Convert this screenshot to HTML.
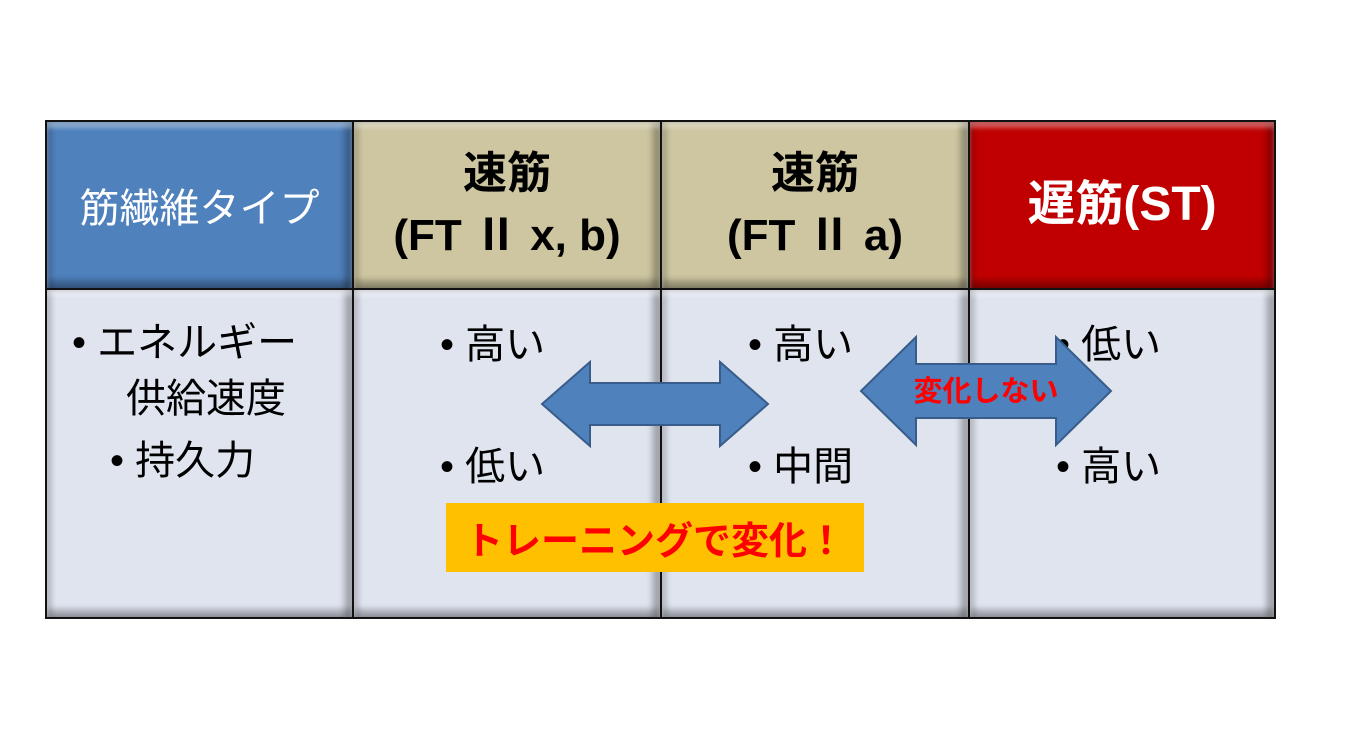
<!DOCTYPE html>
<html><head><meta charset="utf-8"><style>
body{margin:0;width:1350px;height:742px;background:#fff;position:relative;overflow:hidden;font-family:"Liberation Sans","Noto Sans CJK JP",sans-serif}
.c{position:absolute;box-sizing:border-box;border:2px solid #111;display:flex;align-items:center;justify-content:center;text-align:center}
.bev{box-shadow:inset 0 6px 4px rgba(255,255,255,.35),inset 6px 0 4px rgba(0,0,0,.12),inset -8px 0 6px rgba(0,0,0,.25),inset 0 -8px 6px rgba(0,0,0,.25)}
.h{font-weight:bold;font-size:44px;line-height:62px;color:#000}
.b{background:#dfe4ef;align-items:flex-start;justify-content:flex-start;color:#000}
.t{position:absolute;font-size:40px;white-space:nowrap}
</style></head><body>
<div class="c bev" style="left:45px;top:120px;width:309px;height:170px;background:#4f81bd;color:#fff;font-size:40px">筋繊維タイプ</div>
<div class="c bev h" style="left:352px;top:120px;width:310px;height:170px;background:#cdc6a0">速筋<br>(FT Ⅱ x, b)</div>
<div class="c bev h" style="left:660px;top:120px;width:310px;height:170px;background:#cdc6a0">速筋<br>(FT Ⅱ a)</div>
<div class="c bev h" style="left:968px;top:120px;width:308px;height:170px;background:#c00000;color:#fff;font-size:48px">遅筋(ST)</div>
<div class="c bev b" style="left:45px;top:288px;width:309px;height:331px"></div>
<div class="c bev b" style="left:352px;top:288px;width:310px;height:331px"></div>
<div class="c bev b" style="left:660px;top:288px;width:310px;height:331px"></div>
<div class="c bev b" style="left:968px;top:288px;width:308px;height:331px"></div>
<div class="t" style="left:72px;top:310px">• エネルギー</div>
<div class="t" style="left:126px;top:366px">供給速度</div>
<div class="t" style="left:110px;top:428px">• 持久力</div>
<div class="t" style="left:440px;top:312px">• 高い</div>
<div class="t" style="left:440px;top:434px">• 低い</div>
<div class="t" style="left:748px;top:312px">• 高い</div>
<div class="t" style="left:748px;top:434px">• 中間</div>
<div class="t" style="left:1056px;top:312px">• 低い</div>
<div class="t" style="left:1056px;top:434px">• 高い</div>
<svg style="position:absolute;left:0;top:0" width="1350" height="742">
<polygon points="542,404 590,362 590,383 720,383 720,362 768,404 720,446 720,425 590,425 590,446" fill="#4f81bd" stroke="#385d8a" stroke-width="2"/>
<polygon points="861,391 916,337 916,364 1056,364 1056,337 1111,391 1056,445 1056,418 916,418 916,445" fill="#4f81bd" stroke="#385d8a" stroke-width="2"/>
<text x="986" y="401" text-anchor="middle" font-size="29" font-weight="bold" fill="#f00" font-family="Liberation Sans,Noto Sans CJK JP,sans-serif">変化しない</text>
</svg>
<div style="position:absolute;left:446px;top:503px;width:418px;height:69px;background:#ffc000;color:#f00;font-weight:bold;font-size:38px;display:flex;align-items:center;justify-content:center">トレーニングで変化！</div>
</body></html>
